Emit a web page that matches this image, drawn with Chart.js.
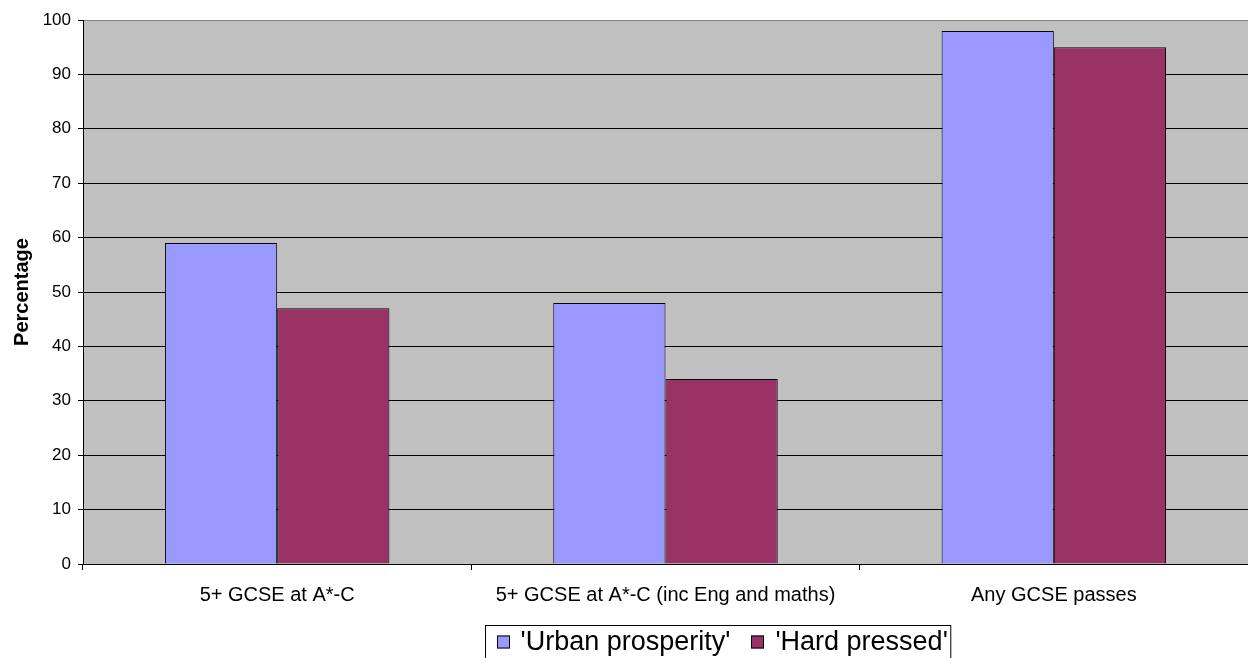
<!DOCTYPE html>
<html>
<head>
<meta charset="utf-8">
<script src="https://cdn.jsdelivr.net/npm/chart.js@4/dist/chart.umd.min.js"></script>
<style>
  html, body { margin: 0; padding: 0; background: #fff; }
  #wrap { width: 1248px; height: 658px; position: relative; }
</style>
</head>
<body>
<div id="wrap"><canvas id="c"></canvas></div>
<script>
// GCSE attainment by area classification (percent of pupils)
const categories = ['5+ GCSE at A*-C', '5+ GCSE at A*-C (inc Eng and maths)', 'Any GCSE passes'];
const seriesNames = ["'Urban prosperity'", "'Hard pressed'"];
const urbanProsperity = [59, 48, 98];
const hardPressed = [47, 34, 95];
const yTicks = [0, 10, 20, 30, 40, 50, 60, 70, 80, 90, 100];

const FONT = "'Liberation Sans', Arial, sans-serif";
Chart.defaults.font.family = FONT;
Chart.defaults.color = '#000';

// grey plot background
const plotBackground = {
  id: 'plotBackground',
  beforeDraw(chart) {
    const { ctx, chartArea: a } = chart;
    ctx.save();
    ctx.fillStyle = '#C0C0C0';
    ctx.fillRect(a.left, a.top, a.right - a.left, a.bottom - a.top);
    ctx.restore();
  }
};

// boxed legend centred below the axis labels
const boxedLegend = {
  id: 'boxedLegend',
  afterDraw(chart) {
    const { ctx } = chart;
    const fontSize = 27;
    const boxSize = 13;
    ctx.save();
    ctx.font = fontSize + 'px ' + FONT;
    ctx.textBaseline = 'middle';
    const items = chart.data.datasets.map(ds => ({
      label: ds.label, color: ds.backgroundColor, w: ctx.measureText(ds.label).width
    }));
    const padL = 11, boxGap = 11, itemGap = 21, padR = 3;
    let total = padL + padR;
    items.forEach((it, i) => { total += boxSize + boxGap + it.w + (i ? itemGap : 0); });
    const cx = 718;
    const left = Math.round(cx - total / 2) + 0.5;
    const top = 625.5;
    ctx.strokeStyle = '#000';
    ctx.lineWidth = 1;
    ctx.strokeRect(left, top, total, 60);
    const midY = 642;
    let x = left + padL;
    items.forEach((it, i) => {
      if (i) x += itemGap;
      ctx.fillStyle = it.color;
      ctx.fillRect(Math.round(x), midY - boxSize / 2, boxSize, boxSize);
      ctx.strokeStyle = '#000';
      ctx.strokeRect(Math.round(x) + 0.5, midY - boxSize / 2 + 0.5, boxSize - 1, boxSize - 1);
      x += boxSize + boxGap;
      ctx.fillStyle = '#000';
      ctx.fillText(it.label, x, midY + 1);
      x += it.w;
    });
    ctx.restore();
  }
};

new Chart(document.getElementById('c'), {
  type: 'bar',
  data: {
    labels: categories,
    datasets: [
      { label: seriesNames[0], data: urbanProsperity, backgroundColor: '#9999FF', borderColor: '#000', borderWidth: 1 },
      { label: seriesNames[1], data: hardPressed, backgroundColor: '#993366', borderColor: '#000', borderWidth: 1 }
    ]
  },
  options: {
    responsive: true,
    maintainAspectRatio: false,
    animation: false,
    layout: { padding: { top: 20, right: -2, bottom: 0, left: 0 } },
    datasets: { bar: { categoryPercentage: 0.578, barPercentage: 1.0 } },
    plugins: { legend: { display: false }, tooltip: { enabled: false } },
    scales: {
      x: {
        grid: { offset: true, drawOnChartArea: false, color: '#000', tickLength: 6, tickColor: '#000' },
        border: { color: '#000', width: 1 },
        ticks: { font: { size: 20 }, padding: 13, maxRotation: 0, color: '#000' },
        afterFit(scale) { scale.height = 94; }
      },
      y: {
        min: 0, max: 100,
        afterBuildTicks(scale) { scale.ticks = yTicks.map(v => ({ value: v })); },
        grid: {
          color: ctx => (ctx.tick && ctx.tick.value === 100 ? '#808080' : '#000'),
          tickColor: '#000',
          tickLength: 5,
          lineWidth: 1
        },
        border: { color: '#000', width: 1 },
        ticks: { font: { size: 17 }, padding: 7, color: '#000' },
        title: {
          display: true, text: 'Percentage', color: '#000',
          font: { size: 20, weight: 'bold' },
          padding: { top: 10, bottom: 0 }
        },
        afterFit(scale) { scale.width = 83; }
      }
    }
  },
  plugins: [plotBackground, boxedLegend]
});
</script>
</body>
</html>
